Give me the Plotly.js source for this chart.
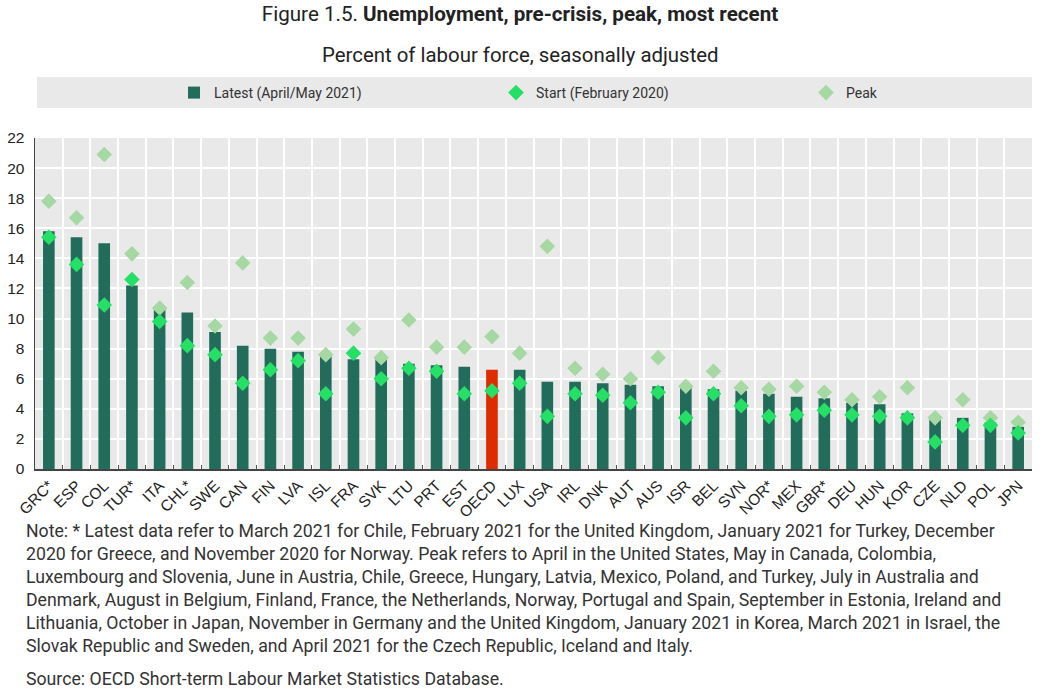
<!DOCTYPE html>
<html>
<head>
<meta charset="utf-8">
<script src="https://cdn.plot.ly/plotly-3.0.1.min.js"></script>
<style>
  html, body { margin: 0; padding: 0; background: #ffffff; }
  #chart { width: 1046px; height: 693px; }
</style>
</head>
<body>
<div id="chart"></div>
<script>
const categories = ["GRC*","ESP","COL","TUR*","ITA","CHL*","SWE","CAN","FIN","LVA","ISL","FRA","SVK","LTU","PRT","EST","OECD","LUX","USA","IRL","DNK","AUT","AUS","ISR","BEL","SVN","NOR*","MEX","GBR*","DEU","HUN","KOR","CZE","NLD","POL","JPN"];
const latest = [15.8,15.4,15.0,12.2,10.6,10.4,9.1,8.2,8.0,7.8,7.6,7.3,7.3,7.0,6.9,6.8,6.6,6.6,5.8,5.8,5.7,5.6,5.5,5.4,5.3,5.2,5.0,4.8,4.7,4.4,4.3,3.7,3.3,3.4,3.1,2.8];
const start = [15.4,13.6,10.9,12.6,9.8,8.2,7.6,5.7,6.6,7.2,5.0,7.7,6.0,6.7,6.5,5.0,5.2,5.7,3.5,5.0,4.9,4.4,5.1,3.4,5.0,4.2,3.5,3.6,3.9,3.6,3.5,3.4,1.8,2.9,2.9,2.4];
const peak = [17.8,16.7,20.9,14.3,10.7,12.4,9.5,13.7,8.7,8.7,7.6,9.3,7.4,9.9,8.1,8.1,8.8,7.7,14.8,6.7,6.3,6.0,7.4,5.5,6.5,5.4,5.3,5.5,5.1,4.6,4.8,5.4,3.4,4.6,3.4,3.1];
const yTicks = [0,2,4,6,8,10,12,14,16,18,20,22];
const seriesNames = ["Latest (April/May 2021)", "Start (February 2020)", "Peak"];
const titleText = "Figure 1.5. <b>Unemployment, pre-crisis, peak, most recent</b>";
const subtitleText = "Percent of labour force, seasonally adjusted";
const noteLines = [
  "Note: * Latest data refer to March 2021 for Chile, February 2021 for the United Kingdom, January 2021 for Turkey, December",
  "2020 for Greece, and November 2020 for Norway. Peak refers to April in the United States, May in Canada, Colombia,",
  "Luxembourg and Slovenia, June in Austria, Chile, Greece, Hungary, Latvia, Mexico, Poland, and Turkey, July in Australia and",
  "Denmark, August in Belgium, Finland, France, the Netherlands, Norway, Portugal and Spain, September in Estonia, Ireland and",
  "Lithuania, October in Japan, November in Germany and the United Kingdom, January 2021 in Korea, March 2021 in Israel, the",
  "Slovak Republic and Sweden, and April 2021 for the Czech Republic, Iceland and Italy."
];
const sourceLine = "Source: OECD Short-term Labour Market Statistics Database.";

const BAR = "#216c5a", RED = "#dd2c00", START = "#25df66", PEAK = "#a6d8a4";
const barColors = categories.map(c => c === "OECD" ? RED : BAR);

const W = 1046, H = 693;
const mL = 35, mR = 14, mT = 138, mB = 224;
const plotW = W - mL - mR, plotH = H - mT - mB;
const px2x = p => (p - mL) / plotW;
const py2y = p => (H - mB - p) / plotH;

const traces = [
  { type: "bar", x: categories, y: latest, name: seriesNames[0], marker: { color: barColors, line: { width: 0 } }, width: 0.42, legend: "legend", hoverinfo: "x+y" },
  { type: "scatter", mode: "markers", x: categories, y: start, name: seriesNames[1], marker: { symbol: "diamond", size: 12, color: START }, legend: "legend2" },
  { type: "scatter", mode: "markers", x: categories, y: peak, name: seriesNames[2], marker: { symbol: "diamond", size: 12, color: PEAK }, legend: "legend3" }
];
const ordered = [traces[0], traces[2], traces[1]];

const legendBase = { orientation: "h", yanchor: "middle", xanchor: "left", bgcolor: "rgba(0,0,0,0)", font: { family: "Roboto, sans-serif", size: 14, color: "#333" }, itemwidth: 30, tracegroupgap: 0 };
const noteFont = { family: "Roboto, sans-serif", size: 17.7, color: "#333" };

const annotations = [
  { text: subtitleText, xref: "paper", yref: "paper", x: px2x(520), y: py2y(55), xanchor: "center", yanchor: "middle", showarrow: false, font: { family: "Roboto, sans-serif", size: 20.4, color: "#222" } }
];
noteLines.forEach((t, i) => {
  annotations.push({ text: t, xref: "paper", yref: "paper", x: px2x(24), y: py2y(531 + 23 * i), xanchor: "left", yanchor: "middle", showarrow: false, align: "left", font: noteFont });
});
annotations.push({ text: sourceLine, xref: "paper", yref: "paper", x: px2x(24), y: py2y(679), xanchor: "left", yanchor: "middle", showarrow: false, align: "left", font: noteFont });

const layout = {
  width: W, height: H,
  margin: { l: mL, r: mR, t: mT, b: mB, pad: 0 },
  paper_bgcolor: "#ffffff",
  plot_bgcolor: "#e9e9e9",
  bargap: 0.5,
  title: { text: titleText, xref: "container", x: 520 / W, xanchor: "center", yref: "container", y: 1 - 14 / H, yanchor: "middle", font: { family: "Roboto, sans-serif", size: 20.6, color: "#222" } },
  xaxis: {
    type: "category", tickangle: -45, tickson: "boundaries", ticks: "inside", ticklen: 4, tickcolor: "#555",
    showgrid: true, gridcolor: "#ffffff", gridwidth: 2,
    showline: true, linecolor: "#444", linewidth: 1.5,
    tickfont: { family: "Liberation Sans, Arial, sans-serif", size: 15.5, color: "#222" },
    range: [-0.5, categories.length - 0.5], fixedrange: true
  },
  yaxis: {
    range: [0, 22], tickvals: yTicks, ticktext: yTicks.map(String),
    showgrid: true, gridcolor: "#ffffff", gridwidth: 2, zeroline: false,
    showline: true, linecolor: "#444", linewidth: 1.5,
    tickfont: { family: "Liberation Sans, Arial, sans-serif", size: 15.5, color: "#222" },
    ticks: "", ticklabelstandoff: 6, fixedrange: true
  },
  showlegend: true,
  legend: Object.assign({}, legendBase, { x: px2x(174), y: py2y(93) }),
  legend2: Object.assign({}, legendBase, { x: px2x(496), y: py2y(93) }),
  legend3: Object.assign({}, legendBase, { x: px2x(806), y: py2y(93) }),
  shapes: [
    { type: "rect", xref: "paper", yref: "paper", x0: px2x(37), x1: px2x(1032), y0: py2y(108), y1: py2y(77), fillcolor: "#e9e9e9", line: { width: 0 }, layer: "below" }
  ],
  annotations: annotations
};

Plotly.newPlot("chart", ordered, layout, { displayModeBar: false, staticPlot: true });
</script>
</body>
</html>
